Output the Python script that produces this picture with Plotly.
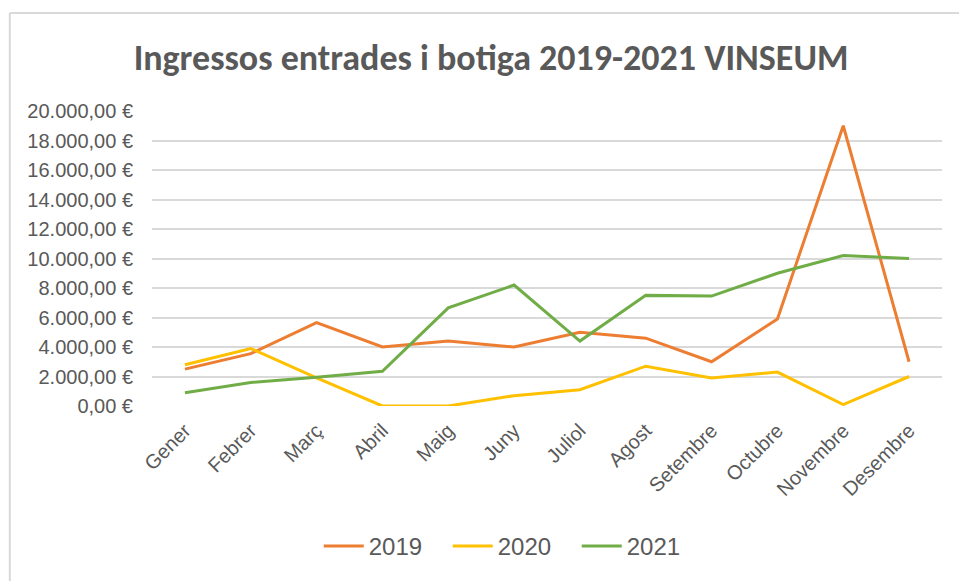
import plotly.graph_objects as go

months = ["Gener", "Febrer", "Març", "Abril", "Maig", "Juny", "Juliol",
          "Agost", "Setembre", "Octubre", "Novembre", "Desembre"]
v2019 = [2500, 3550, 5650, 4000, 4400, 4000, 5000, 4600, 3000, 5900, 19000, 3000]
v2020 = [2800, 3900, 1900, 0, 0, 700, 1100, 2700, 1900, 2300, 100, 2000]
v2021 = [900, 1600, 1950, 2350, 6650, 8200, 4400, 7500, 7450, 9000, 10200, 10000]
y_ticks = [0, 2000, 4000, 6000, 8000, 10000, 12000, 14000, 16000, 18000, 20000]


def euro(v):
    s = f"{v:,.2f}".replace(",", "X").replace(".", ",").replace("X", ".")
    return s + " €"


y_tick_labels = [euro(v) for v in y_ticks]

series = [("2019", v2019, "#ED7D31"), ("2020", v2020, "#FFC000"), ("2021", v2021, "#70AD47")]

fig = go.Figure()
for name, vals, col in series:
    fig.add_trace(go.Scatter(x=months, y=vals, name=name, mode="lines",
                             line=dict(color=col, width=3), cliponaxis=False))

fig.update_layout(
    width=959, height=581,
    paper_bgcolor="white", plot_bgcolor="white",
    margin=dict(l=152, r=17, t=111, b=173),
    title=dict(text="<b>Ingressos entrades i botiga 2019-2021 VINSEUM</b>",
               font=dict(family="Carlito, Lato, sans-serif", size=36, color="#595959"),
               x=0.512, xref="container", xanchor="center",
               y=0.902, yref="container", yanchor="middle"),
    xaxis=dict(tickangle=-45, showgrid=False, showline=False, ticks="",
               range=[-0.5, len(months) - 0.5],
               ticklabelstandoff=8,
               tickfont=dict(family="Liberation Sans, Arial", size=20, color="#595959")),
    yaxis=dict(range=[0, 20000], tickvals=y_ticks, ticktext=y_tick_labels,
               showgrid=True, gridcolor="#D9D9D9", gridwidth=1.5, zeroline=False,
               showline=False, ticks="", ticklabelstandoff=18,
               tickfont=dict(family="Liberation Sans, Arial", size=20, color="#595959")),
    legend=dict(orientation="h", x=0.456, xanchor="center", y=-0.476, yanchor="middle",
                font=dict(family="Liberation Sans, Arial", size=24, color="#595959"),
                itemwidth=40, entrywidth=74, entrywidthmode="pixels"),
    showlegend=True,
)

fig.add_shape(type="line", xref="paper", yref="paper", x0=-0.18, x1=1.05, y0=1.332, y1=1.332,
              line=dict(color="#D9D9D9", width=2))
fig.add_shape(type="line", xref="paper", yref="paper", x0=-0.18, x1=-0.18, y0=1.332, y1=-0.62,
              line=dict(color="#D9D9D9", width=2))

fig.write_html("out.html", config={"displayModeBar": False},
               post_script="document.body.style.margin='0px';")
